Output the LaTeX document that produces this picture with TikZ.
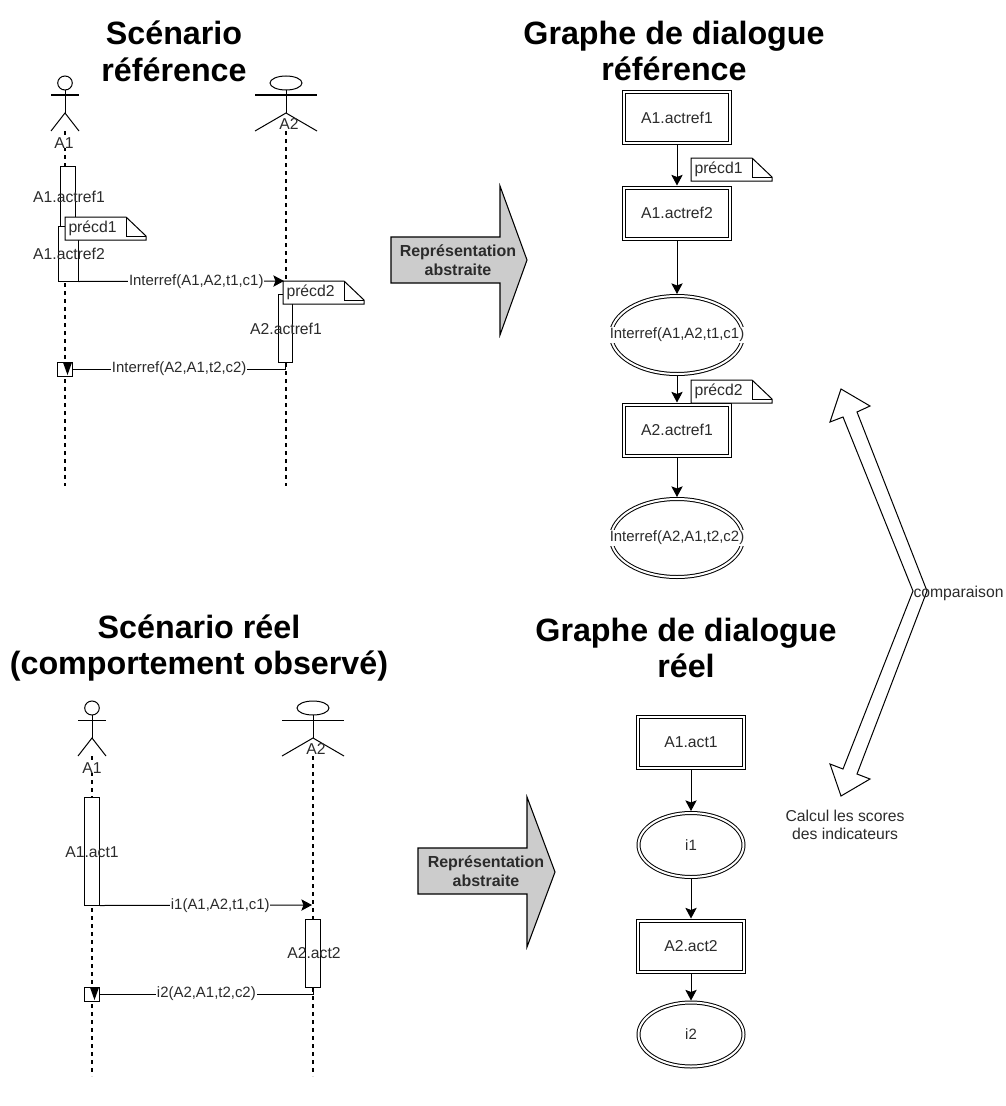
\documentclass[tikz,border=0pt]{standalone}
\usepackage{fontspec}
\setmainfont{Liberation Sans}
\usetikzlibrary{arrows.meta,shapes.geometric}
\definecolor{txtgray}{HTML}{2B2B2B}
\definecolor{arrowgray}{HTML}{CCCCCC}
\def\px{0.75pt}
\tikzset{
  title/.style={font=\fontsize{24.2}{27.6}\selectfont\bfseries, align=center, text=black},
  lbl/.style={font=\fontsize{11.8}{14}\selectfont, text=txtgray, inner sep=0pt, align=center},
  msglabel/.style={font=\fontsize{11.2}{13}\selectfont, text=txtgray, fill=white, inner sep=0.6pt},
  lifeline/.style={dash pattern=on 3pt off 3pt, line width=0.8pt},
  bar/.style={draw, fill=white, inner sep=0pt, minimum width=14.5*\px},
  msg/.style={-{Stealth[length=8pt,width=8.5pt,inset=1.6pt]}},
  actbox/.style={draw, double, double distance=1.5pt, fill=white, lbl, minimum width=106*\px, minimum height=51*\px, outer sep=1.5pt},
  intell/.style={draw, double, double distance=1.5pt, fill=white, ellipse, inner sep=0pt, outer sep=1.5pt,
    font=\fontsize{11.2}{13}\selectfont, text=txtgray},
  bigarrow/.style={draw, fill=arrowgray, line width=0.8pt},
  bigtext/.style={font=\fontsize{12}{14}\selectfont\bfseries, text=txtgray, align=center, inner sep=0pt}
}
% note with a folded corner, #2 is its top left corner
\newcommand{\precdnote}[3]{
  \draw[fill=white] (#2) ++(0,0) -- ++(61,0) -- ++(20,19) -- ++(0,4) -- ++(-81,0) -- cycle;
  \draw (#2) ++(61,0) -- ++(0,19) -- ++(20,0);
  \node[lbl, anchor=west] (#1) at ([shift={(3,11)}]#2) {#3};
}
\begin{document}
\begin{tikzpicture}[x=0.75pt,y=-0.75pt,line width=0.75pt]
  \useasboundingbox (0,0) rectangle (1006,1106);

  % Titles
  \node[title] (titleA) at (174,51) {Scénario\\référence};
  \node[title] (titleB) at (674,51) {Graphe de dialogue\\référence};
  \node[title] (titleC) at (199,648) {Scénario réel\\(comportement observé)};
  \node[title] (titleD) at (686,648) {Graphe de dialogue\\réel};

  % Actors
  \foreach \ax/\ay/\rx/\arm in {65/83/7.3/14, 286/83/16/31, 92/708/7.3/14, 313/708/16/31} {
    \draw (\ax,\ay) ellipse ({\rx} and 7);
    \draw (\ax,\ay+7) -- (\ax,\ay+30);
    \draw (\ax-\arm,\ay+12) -- (\ax+\arm,\ay+12);
    \draw (\ax-\arm,\ay+48) -- (\ax,\ay+30) -- (\ax+\arm,\ay+48);
  }

  % Lifelines, top
  \coordinate (lineA1) at (65,131);
  \coordinate (endA1) at (65,486);
  \coordinate (lineA2) at (286,131);
  \coordinate (endA2) at (286,486);
  \draw[lifeline] (lineA1) -- (endA1);
  \draw[lifeline] (lineA2) -- (endA2);
  \node[lbl, fill=white] (nameA1) at (64,143) {A1};
  \node[lbl] (nameA2) at (289,124) {A2};

  % Scenario reference
  \node[bar, minimum height=60*\px] (barRef1) at (68.2,196) {};
  \node[bar, minimum width=20*\px, minimum height=55*\px] (barRef2) at (68,253.5) {};
  \node[lbl] (lblRef1) at (69,197) {A1.actref1};
  \node[lbl] (lblRef2) at (69,254) {A1.actref2};
  \precdnote{noteRef1}{65,217}{précd1}
  \coordinate (tipRef) at (284,281);
  \draw[msg] (barRef2.south east) -- node[msglabel, pos=.573] (msgRef1) {Interref(A1,A2,t1,c1)} (tipRef);
  \node[bar, minimum height=68*\px] (barRef3) at (285.7,328) {};
  \precdnote{noteRef2}{283,281}{précd2}
  \node[lbl] (lblRef3) at (286,329) {A2.actref1};
  \node[bar, minimum height=14*\px] (backRef) at (65,369) {};
  \draw (barRef3.south) |- node[msglabel, pos=.75] (msgRef2) {Interref(A2,A1,t2,c2)} (backRef.east);
  \fill (backRef.center) ++(-1.8,-6) -- ++(8.6,0) -- ++(-4.3,12) -- cycle;

  % Lifelines, bottom
  \coordinate (lineB1) at (92,756);
  \coordinate (endB1) at (92,1076);
  \coordinate (lineB2) at (313,756);
  \coordinate (endB2) at (313,1076);
  \draw[lifeline] (lineB1) -- (endB1);
  \draw[lifeline] (lineB2) -- (endB2);
  \node[lbl, fill=white] (nameB1) at (92,768) {A1};
  \node[lbl] (nameB2) at (316,749) {A2};

  % Scenario observed
  \node[bar, minimum height=108*\px] (barAct1) at (92,851) {};
  \node[lbl] (lblAct1) at (92,852) {A1.act1};
  \coordinate (tipAct) at (312,905);
  \draw[msg] (barAct1.south east) -- node[msglabel, pos=.568] (msgAct1) {i1(A1,A2,t1,c1)} (tipAct);
  \node[bar, minimum height=68*\px] (barAct2) at (313,953) {};
  \node[lbl] (lblAct2) at (314,953) {A2.act2};
  \node[bar, minimum height=14*\px] (backAct) at (92,994) {};
  \draw (barAct2.south) |- node[msglabel, pos=.75] (msgAct2) {i2(A2,A1,t2,c2)} (backAct.east);
  \fill (backAct.center) ++(-1.8,-6) -- ++(8.6,0) -- ++(-4.3,12) -- cycle;

  % Abstraction arrows
  \draw[bigarrow] (391,237) -- (500,237) -- (500,186) -- (527,260) -- (500,335) -- (500,283) -- (391,283) -- cycle;
  \node[bigtext] (abstrA) at (458,260) {Représentation\\abstraite};
  \draw[bigarrow] (418,848) -- (527,848) -- (527,797) -- (555,872) -- (527,947) -- (527,894) -- (418,894) -- cycle;
  \node[bigtext] (abstrB) at (486,871) {Représentation\\abstraite};

  % Graph reference
  \node[actbox] (gRef1) at (677,117.5) {A1.actref1};
  \node[actbox] (gRef2) at (677,213) {A1.actref2};
  \node[intell, minimum width=132*\px, minimum height=78*\px] (gInt1) at (677,335) {};
  \node[msglabel] (lblInt1) at (gInt1) {Interref(A1,A2,t1,c1)};
  \node[actbox] (gRef3) at (677,430) {A2.actref1};
  \node[intell, minimum width=132*\px, minimum height=78*\px] (gInt2) at (677,538) {};
  \node[msglabel] (lblInt2) at (gInt2) {Interref(A2,A1,t2,c2)};
  \draw[msg] (gRef1) -- (gRef2);
  \draw[msg] (gRef2) -- (gInt1);
  \draw[msg] (gInt1) -- (gRef3);
  \draw[msg] (gRef3) -- (gInt2);
  \precdnote{noteG1}{691,158}{précd1}
  \precdnote{noteG2}{691,380}{précd2}

  % Graph observed
  \node[actbox] (gAct1) at (691,742.5) {A1.act1};
  \node[intell, minimum width=105*\px, minimum height=64*\px] (gI1) at (691,845) {i1};
  \node[actbox] (gAct2) at (691,946) {A2.act2};
  \node[intell, minimum width=105*\px, minimum height=64*\px] (gI2) at (691,1034.5) {i2};
  \draw[msg] (gAct1) -- (gI1);
  \draw[msg] (gI1) -- (gAct2);
  \draw[msg] (gAct2) -- (gI2);

  % Comparison
  \draw (841,389) -- (870,406) -- (857,412) -- (927,591) -- (857,774) -- (870,779) -- (841,796)
    -- (830,764) -- (843,769) -- (913,591) -- (843,417) -- (830,422) -- cycle;
  \node[lbl, anchor=west] (compar) at (913,593) {comparaison};
  \node[lbl] (calcul) at (845,825) {Calcul les scores\\des indicateurs};
\end{tikzpicture}
\end{document}
